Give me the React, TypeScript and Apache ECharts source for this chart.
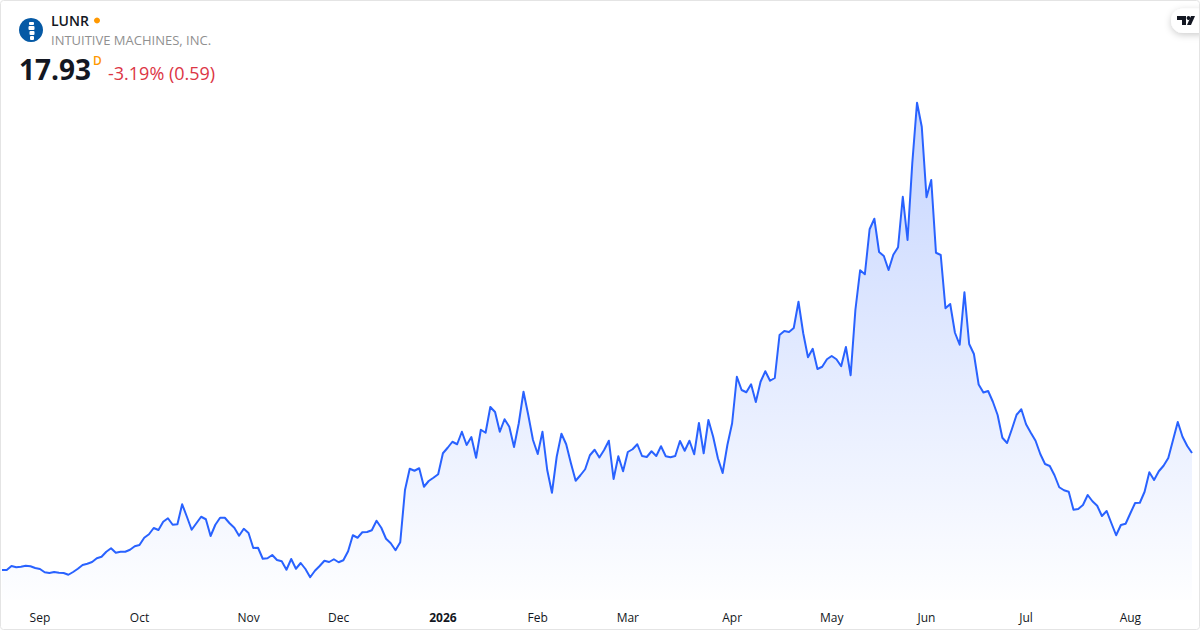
import React, { useEffect, useRef } from "react";
import * as echarts from "echarts";

const seriesValues: number[] = [
  8.57, 8.57, 8.89, 8.79, 8.83, 8.91, 8.87, 8.73, 8.65, 8.39,
  8.33, 8.41, 8.35, 8.33, 8.19, 8.41, 8.67, 8.97, 9.07, 9.21,
  9.51, 9.63, 10.03, 10.31, 9.95, 10.03, 10.03, 10.19, 10.47, 10.57,
  11.15, 11.43, 11.93, 11.77, 12.43, 12.71, 12.19, 12.23, 13.83, 12.83,
  11.79, 12.31, 12.83, 12.63, 11.29, 12.19, 12.75, 12.75, 12.31, 11.95,
  11.31, 11.87, 11.53, 10.33, 10.35, 9.47, 9.51, 9.77, 9.37, 9.27,
  8.59, 9.45, 8.67, 9.13, 8.65, 7.99, 8.51, 8.89, 9.31, 9.21,
  9.43, 9.19, 9.35, 10.07, 11.35, 11.15, 11.59, 11.61, 11.75, 12.51,
  11.95, 11.07, 10.71, 10.15, 10.79, 14.97, 16.67, 16.51, 16.71, 15.23,
  15.69, 15.95, 16.23, 17.91, 18.35, 18.83, 18.63, 19.63, 18.57, 19.21,
  17.55, 19.79, 19.55, 21.61, 21.21, 19.63, 20.63, 20.03, 18.41, 20.31,
  22.83, 20.97, 18.97, 17.85, 19.63, 16.57, 14.75, 17.63, 19.47, 18.63,
  17.11, 15.71, 16.15, 16.63, 17.75, 18.19, 17.57, 18.17, 18.91, 15.85,
  17.67, 16.47, 18.01, 18.23, 18.63, 17.69, 17.61, 18.07, 17.69, 18.47,
  17.67, 17.59, 17.69, 18.89, 18.11, 18.91, 17.83, 20.33, 17.91, 20.57,
  19.23, 17.51, 16.33, 18.57, 20.31, 24.03, 22.97, 22.79, 23.43, 22.01,
  23.63, 24.47, 23.71, 23.93, 27.37, 27.69, 27.61, 27.93, 30.03, 27.51,
  25.59, 26.27, 24.65, 24.83, 25.43, 25.69, 25.43, 24.87, 26.41, 24.15,
  29.37, 32.55, 32.23, 35.83, 36.67, 34.01, 33.69, 32.57, 33.79, 34.39,
  38.43, 34.97, 41.11, 45.95, 44.03, 38.39, 39.77, 33.95, 33.77, 29.51,
  29.85, 27.55, 26.59, 30.79, 26.65, 25.85, 23.41, 22.77, 22.89, 22.03,
  20.97, 19.15, 18.73, 19.83, 20.99, 21.43, 20.23, 19.55, 18.91, 17.85,
  17.05, 16.89, 16.15, 15.19, 14.95, 14.83, 13.39, 13.45, 13.77, 14.57,
  14.07, 13.71, 12.89, 13.29, 12.31, 11.35, 12.17, 12.27, 13.11, 13.93,
  13.95, 14.83, 16.39, 15.77, 16.47, 16.91, 17.53, 18.97, 20.41, 19.23,
  18.49, 17.93,
];

const monthLabels: string[] = ["Sep", "Oct", "Nov", "Dec", "2026", "Feb", "Mar", "Apr", "May", "Jun", "Jul", "Aug"];
const monthStarts: number[] = [8, 29, 52, 71, 93, 113, 132, 154, 175, 195, 216, 238];

const categories: string[] = seriesValues.map((_, i) => {
  const m = monthStarts.indexOf(i);
  return m >= 0 ? monthLabels[m] : `d${i}`;
});

const FONT = '"Open Sans", sans-serif';

export default function App() {
  const ref = useRef<HTMLDivElement>(null);
  useEffect(() => {
    const chart = echarts.init(ref.current!, null, { renderer: "svg" });
    chart.setOption({
      animation: false,
      backgroundColor: "#ffffff",
      grid: { left: 2, right: 8, top: 0, bottom: 30 },
      xAxis: {
        type: "category",
        data: categories,
        boundaryGap: false,
        axisLine: { show: false },
        axisTick: { show: false },
        splitLine: { show: false },
        axisLabel: {
          interval: (i: number) => monthStarts.includes(i),
          margin: 11,
          fontFamily: FONT,
          fontSize: 12,
          color: "#131722",
          formatter: (v: string) => (v === "2026" ? "{b|2026}" : v),
          rich: { b: { fontFamily: FONT, fontSize: 12, fontWeight: 700, color: "#131722" } },
        },
      },
      yAxis: { type: "value", min: 6.17, max: 54.17, show: false },
      series: [
        {
          type: "line",
          data: seriesValues,
          showSymbol: false,
          symbol: "none",
          smooth: false,
          lineStyle: { color: "#2962ff", width: 2, join: "round" },
          areaStyle: {
            color: new echarts.graphic.LinearGradient(0, 0, 0, 1, [
              { offset: 0, color: "rgba(41,98,255,0.38)" },
              { offset: 1, color: "rgba(41,98,255,0.01)" },
            ]),
          },
        },
      ],
      graphic: [
        { type: "rect", z: 100, shape: { x: 0.5, y: 0.5, width: 1199, height: 629, r: 3 }, style: { fill: "none", stroke: "#e4e4e4", lineWidth: 1 } },
        { type: "circle", shape: { cx: 31, cy: 30, r: 12 }, style: { fill: "#0559a5" } },
        { type: "rect", shape: { x: 29, y: 22, width: 5, height: 3, r: 1 }, style: { fill: "#ffffff" } },
        { type: "rect", shape: { x: 28.5, y: 26, width: 6, height: 4, r: 1 }, style: { fill: "#ffffff" } },
        { type: "rect", shape: { x: 29.5, y: 31, width: 5, height: 4, r: 1 }, style: { fill: "#ffffff" } },
        { type: "rect", shape: { x: 30, y: 36, width: 4, height: 4, r: 1 }, style: { fill: "#ffffff" } },
        { type: "text", x: 51, y: 13, style: { text: "LUNR", font: `600 14px ${FONT}`, fill: "#131722" } },
        { type: "circle", shape: { cx: 97, cy: 20.5, r: 3 }, style: { fill: "#ff9800" } },
        { type: "text", x: 51, y: 33, style: { text: "INTUITIVE MACHINES, INC.", font: `400 13px ${FONT}`, fill: "#909090" } },
        { type: "text", x: 19, y: 55, style: { text: "17.93", font: `700 28px ${FONT}`, fill: "#131722" } },
        { type: "text", x: 93, y: 54, style: { text: "D", font: `600 12px ${FONT}`, fill: "#ff9800" } },
        { type: "text", x: 108, y: 64, style: { text: "-3.19% (0.59)", font: `400 18px ${FONT}`, fill: "#dc3545" } },
        {
          type: "rect",
          shape: { x: 1171, y: 8.5, width: 40, height: 24.5, r: 12 },
          style: { fill: "#ffffff", shadowBlur: 7, shadowColor: "rgba(0,0,0,0.2)", shadowOffsetY: 2 },
        },
        {
          type: "polygon",
          shape: { points: [[1177, 16], [1186, 16], [1186, 25], [1182, 25], [1182, 20], [1177, 20]] },
          style: { fill: "#131722" },
        },
        { type: "circle", shape: { cx: 1188.5, cy: 18, r: 1.9 }, style: { fill: "#131722" } },
        {
          type: "polygon",
          shape: { points: [[1191, 16], [1195, 16], [1191, 25], [1187, 25]] },
          style: { fill: "#131722" },
        },
      ],
    });
    return () => chart.dispose();
  }, []);
  return <div ref={ref} style={{ position: "fixed", left: 0, top: 0, width: 1200, height: 630 }} />;
}
